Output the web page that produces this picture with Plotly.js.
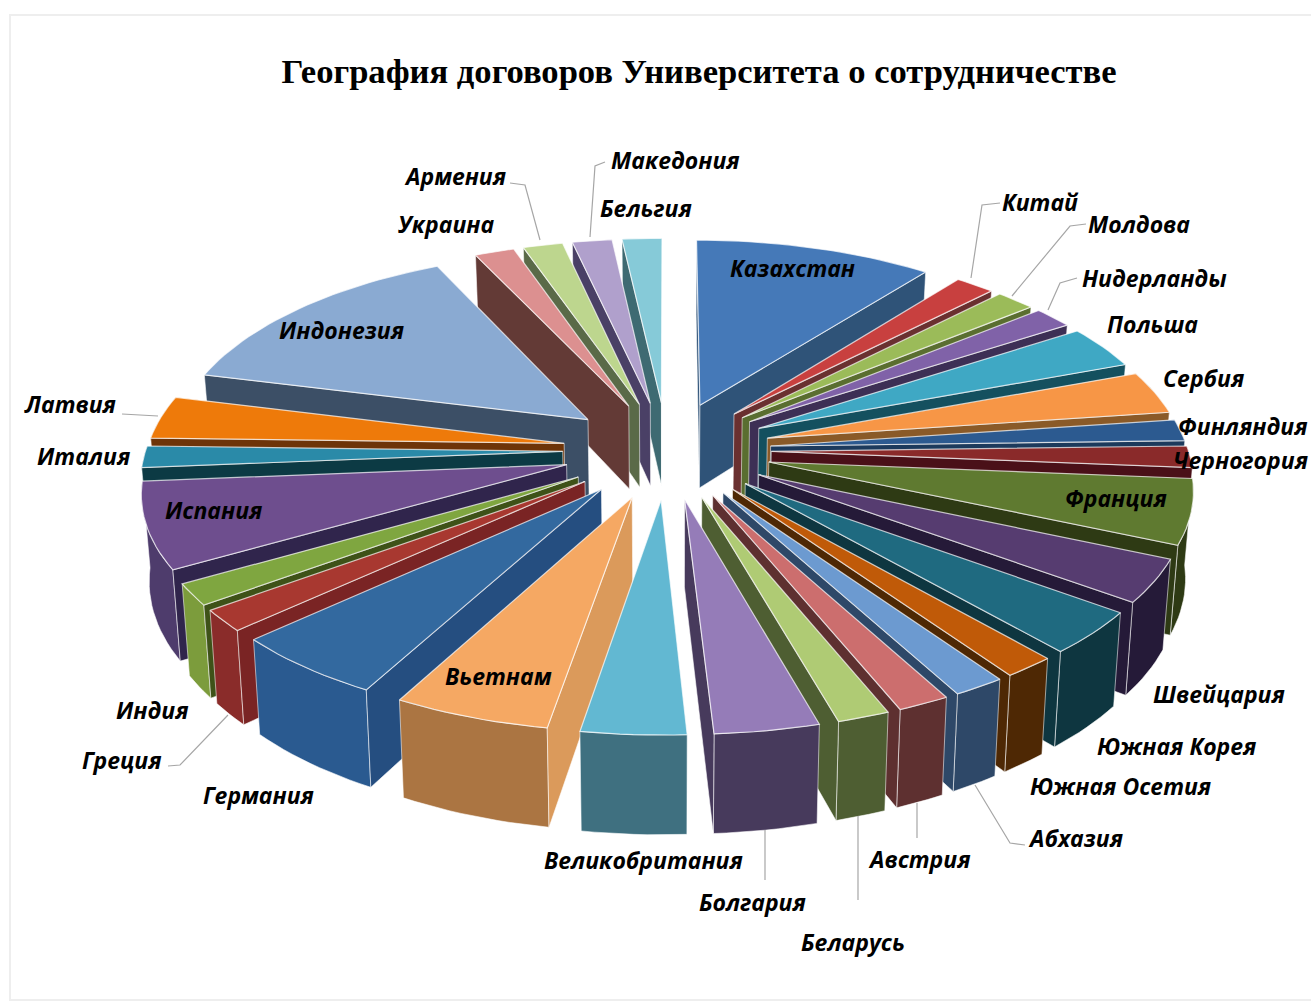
<!DOCTYPE html>
<html><head><meta charset="utf-8">
<script src="https://cdn.plot.ly/plotly-3.0.1.min.js"></script>
<style>html,body{margin:0;padding:0;background:#fff}#c{width:1311px;height:1006px}</style>
</head><body><div id="c"></div>
<script>
const categories = ["Казахстан","Китай","Молдова","Нидерланды","Польша","Сербия","Финляндия","Черногория","Франция","Швейцария","Южная Корея","Южная Осетия","Абхазия","Австрия","Беларусь","Болгария","Великобритания","Вьетнам","Германия","Греция","Индия","Испания","Италия","Латвия","Индонезия","Украина","Армения","Македония","Бельгия"];
const values = [6,1,1,1,2,2,1,1,3,2,2,1,1,1,1,2,2,3,3,1,1,4,1,2,8,1,1,1,1];
const topColors = ["#4579B8","#C8403F","#9BBB59","#8062A8","#3FA8C4","#F79646","#2C5A90","#8A2A2A","#5F7A30","#563C70","#1F6A80","#C05A08","#6C9AD0","#CC6E6E","#AFCB74","#957CB8","#62B8D2","#F5A863","#33699F","#A83830","#7FA640","#6E4E8E","#2A8AA8","#EE7A0A","#8AAAD2","#DC9090","#BDD68E","#B0A0CC","#86CAD8"];
const sideColors = ["#2F5378","#6A3030","#5A6E30","#3D2F55","#14505F","#8A5A28","#1C3A5C","#4A1018","#2E3A14","#251A38","#0E3640","#4E2804","#2E4868","#5E3030","#4E5E32","#473A5C","#3F7080","#DB9A5B","#254E80","#7A2424","#3E5218","#30254C","#0C3A44","#6E3408","#3C4F66","#633A36","#5A6A48","#4A4066","#3E6A72"];
const rimColors = ["#2F5378","#6A3030","#5A6E30","#3D2F55","#14505F","#8A5A28","#1C3A5C","#4A1018","#2E3A14","#251A38","#0E3640","#4E2804","#2E4868","#5E3030","#4E5E32","#473A5C","#3F7080","#AB7542","#2A5A90","#8A2C2A","#7C9C3C","#4E3C6C","#0C3A44","#6E3408","#3C4F66","#633A36","#5A6A48","#4A4066","#3E6A72"];
const labelX = [792,1040,1139,1154,1152,1203,1243,1240,1116,1219,1177,1120,1075,919,853,752,643,498,258,122,152,213,83,70,341,446,455,675,646];
const labelY = [268,202,224,278,324,378,426,460,498,694,746,786,838,859,942,902,860,676,795,760,710,510,456,404,330,224,176,160,208];
const leaders = [
 [[1000,203],[982,205],[971,278]],
 [[1086,224],[1070,226],[1012,296]],
 [[1077,278],[1060,283],[1048,310]],
 [[510,183],[525,185],[540,240]],
 [[605,162],[595,166],[590,237]],
 [[122,414],[158,416]],
 [[168,766],[180,765],[228,715]],
 [[917,838],[917,803]],
 [[858,900],[858,816]],
 [[765,880],[765,830]],
 [[1025,845],[1010,843],[975,785]]
];
const CX=667, CY=450, A=417, B=194.5, K=0.118, EXPLODE=0.25, H=85;

function proj(u,v,down){
  const s=1/(1+K*v);
  const x=CX+A*u*s, y=CY-B*v*s;
  return down ? [CX+(x-CX)*0.985, y+H*s] : [x,y];
}
function poly(points,fill,name,lineCol,lw){
  return {type:'scatter',mode:'lines',x:points.map(p=>p[0]),y:points.map(p=>p[1]),fill:'toself',fillcolor:fill,
    line:{color:lineCol,width:lw},hoverinfo:'skip',showlegend:false,name:name};
}
const total=values.reduce((a,b)=>a+b,0);
let acc=0;
const slices=values.map((val,i)=>{
  const a0=acc/total*2*Math.PI; acc+=val; const a1=acc/total*2*Math.PI; const mid=(a0+a1)/2;
  return {i,a0,a1,mid,ox:EXPLODE*Math.sin(mid),oy:EXPLODE*Math.cos(mid)};
});
const order=slices.slice().sort((p,q)=>Math.cos(q.mid)-Math.cos(p.mid));
const area=pts=>{let s=0;for(let j=0;j<pts.length;j++){const a=pts[j],b=pts[(j+1)%pts.length];s+=a[0]*b[1]-b[0]*a[1];}return s/2;};
const traces=[];
const edge='rgba(255,255,255,0.7)';
order.forEach(s=>{
  const n=Math.max(6,Math.ceil((s.a1-s.a0)/0.03));
  const uv=[];
  for(let k=0;k<=n;k++){const t=s.a0+(s.a1-s.a0)*k/n;uv.push([s.ox+Math.sin(t),s.oy+Math.cos(t)]);}
  const tip=[s.ox,s.oy];
  const name=categories[s.i];
  const rimTop=uv.map(p=>proj(p[0],p[1],false)), rimBase=uv.map(p=>proj(p[0],p[1],true));
  if(Math.cos(s.mid)<0.25){
    const r=rimTop.concat(rimBase.slice().reverse()); r.push(r[0]);
    traces.push(poly(r,rimColors[s.i],name,edge,0.8));
  }
  [[tip,uv[0]],[uv[n],tip]].forEach(e=>{
    const q=[proj(e[0][0],e[0][1],false),proj(e[1][0],e[1][1],false),proj(e[1][0],e[1][1],true),proj(e[0][0],e[0][1],true)];
    if(area(q)<0){q.push(q[0]);traces.push(poly(q,sideColors[s.i],name,edge,0.8));}
  });
  const t=[proj(tip[0],tip[1],false)].concat(rimTop); t.push(t[0]);
  traces.push(poly(t,topColors[s.i],name,edge,1.2));
});
leaders.forEach(l=>traces.push({type:'scatter',mode:'lines',x:l.map(p=>p[0]),y:l.map(p=>p[1]),line:{color:'#A6A6A6',width:1.2},hoverinfo:'skip',showlegend:false}));
const annotations=categories.map((c,i)=>({x:labelX[i],y:labelY[i],xref:'x',yref:'y',text:'<b><i>'+c+'</i></b>',showarrow:false,xanchor:'center',yanchor:'middle',
  font:{family:'"Open Sans","Noto Sans",sans-serif',size:23,color:'#000'}}));
Plotly.newPlot('c',traces,{
  width:1311,height:1006,margin:{l:0,r:0,t:0,b:0},paper_bgcolor:'#fff',plot_bgcolor:'#fff',showlegend:false,
  title:{text:'<b>География договоров Университета о сотрудничестве</b>',x:699/1311,y:1-71/1006,xanchor:'center',yanchor:'middle',font:{family:'"Liberation Serif",serif',size:34.6,color:'#000'}},
  xaxis:{range:[0,1311],visible:false,fixedrange:true},
  yaxis:{range:[1006,0],visible:false,fixedrange:true},
  annotations,
  shapes:[{type:'rect',xref:'x',yref:'y',x0:10,y0:15,x1:1320,y1:1000,line:{color:'#EEEEEE',width:2},fillcolor:'rgba(0,0,0,0)',layer:'below'}]
},{displayModeBar:false,staticPlot:true});
</script></body></html>
